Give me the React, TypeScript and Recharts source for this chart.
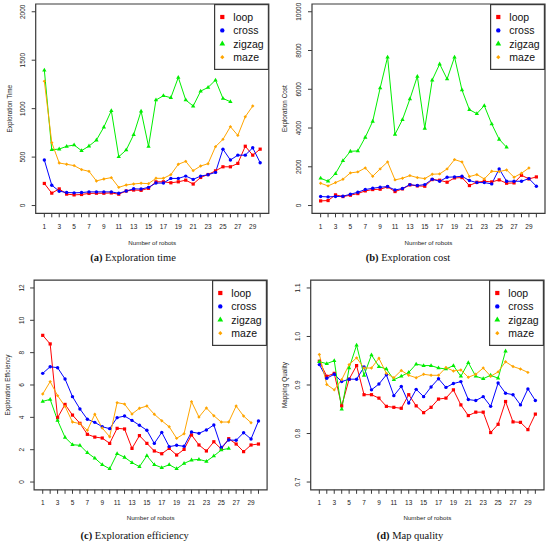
import { Legend, Line, LineChart, ReferenceArea, XAxis, YAxis } from "recharts";

// number of robots (x axis)
const robots = [1, 2, 3, 4, 5, 6, 7, 8, 9, 10, 11, 12, 13, 14, 15, 16, 17, 18, 19, 20, 21, 22, 23, 24, 25, 26, 27, 28, 29, 30];

// (a) exploration time
const timeLoop = [228, 128, 172, 118, 110, 114, 125, 127, 127, 130, 117, 150, 160, 157, 178, 245, 245, 235, 245, 262, 222, 290, 320, 358, 400, 400, 435, 612, 520, 582];
const timeCross = [470, 210, 148, 135, 131, 134, 141, 141, 141, 141, 127, 150, 173, 170, 188, 232, 232, 280, 280, 304, 270, 304, 318, 342, 582, 470, 520, 520, 596, 442];
const timeZigzag = [1398, 576, 583, 611, 625, 566, 614, 676, 810, 979, 504, 573, 731, 975, 611, 1089, 1133, 1113, 1322, 1089, 1027, 1181, 1219, 1295, 1106, 1071];
const timeMaze = [1284, 649, 439, 426, 412, 371, 353, 254, 274, 288, 188, 212, 223, 230, 226, 281, 281, 319, 426, 456, 360, 408, 432, 608, 683, 814, 724, 917, 1027];

// (b) exploration cost
const costLoop = [240, 258, 550, 464, 533, 618, 756, 825, 842, 962, 722, 859, 1065, 1014, 996, 1340, 1306, 1203, 1426, 1443, 1031, 1203, 1254, 1220, 1323, 1151, 1168, 1563, 1374, 1477];
const costCross = [464, 447, 464, 481, 584, 687, 825, 893, 945, 979, 807, 876, 1082, 1031, 1082, 1357, 1254, 1460, 1477, 1512, 1289, 1185, 1185, 1117, 1890, 1254, 1254, 1254, 1391, 996];
const costZigzag = [1409, 1254, 1649, 2319, 2800, 2818, 3522, 4347, 6065, 7662, 3677, 4433, 5498, 6666, 3986, 6477, 7302, 6529, 7662, 5962, 4948, 4742, 5154, 4209, 3419, 3007];
const costMaze = [1151, 1014, 1185, 1357, 1684, 1735, 1941, 1512, 1890, 2251, 1323, 1409, 1546, 1443, 1391, 1615, 1632, 1890, 2371, 2251, 1495, 1598, 1374, 1770, 1752, 1838, 1460, 1666, 1941];

// (c) exploration efficiency
const effLoop = [9.07, 8.54, 3.98, 4.8, 4.14, 3.63, 2.95, 2.78, 2.72, 2.39, 3.32, 3.28, 2.08, 2.87, 2.39, 1.92, 1.75, 2.08, 1.67, 2.02, 2.91, 2.29, 1.92, 2.49, 2.04, 2.68, 2.35, 1.88, 2.29, 2.35];
const effCross = [6.72, 7.13, 7.07, 6.37, 5.28, 4.52, 3.88, 3.69, 3.42, 3.3, 3.98, 4.08, 3.81, 3.51, 3.2, 2.39, 3.07, 2.19, 2.27, 2.21, 3.09, 3.01, 3.22, 3.53, 2.14, 2.6, 2.58, 3.05, 2.66, 3.77];
const effZigzag = [4.99, 5.11, 3.81, 2.76, 2.31, 2.27, 1.81, 1.48, 1.07, 0.82, 1.75, 1.53, 1.2, 0.95, 1.63, 1.07, 0.89, 1.07, 0.82, 1.15, 1.36, 1.4, 1.28, 1.61, 1.98, 2.08];
const effMaze = [5.44, 6.21, 5.34, 4.68, 3.71, 3.61, 3.2, 4.19, 3.34, 2.8, 4.91, 4.82, 4.21, 4.56, 4.7, 4.19, 3.79, 3.42, 2.7, 2.99, 4.97, 4.02, 4.58, 4.1, 3.71, 3.71, 4.7, 4.08, 3.67];

// (d) map quality
const qualLoop = [0.949, 0.918, 0.924, 0.857, 0.912, 0.94, 0.88, 0.88, 0.873, 0.856, 0.854, 0.852, 0.88, 0.857, 0.843, 0.854, 0.871, 0.873, 0.89, 0.859, 0.837, 0.844, 0.844, 0.802, 0.819, 0.866, 0.824, 0.823, 0.808, 0.84];
const qualCross = [0.942, 0.914, 0.922, 0.907, 0.912, 0.912, 0.937, 0.89, 0.902, 0.921, 0.878, 0.897, 0.863, 0.891, 0.876, 0.896, 0.913, 0.895, 0.903, 0.907, 0.87, 0.868, 0.876, 0.856, 0.904, 0.883, 0.88, 0.859, 0.892, 0.868];
const qualZigzag = [0.948, 0.944, 0.95, 0.85, 0.935, 0.982, 0.92, 0.962, 0.938, 0.933, 0.911, 0.918, 0.926, 0.943, 0.94, 0.94, 0.935, 0.933, 0.94, 0.918, 0.946, 0.918, 0.913, 0.92, 0.914, 0.97];
const qualMaze = [0.963, 0.901, 0.89, 0.911, 0.942, 0.956, 0.935, 0.935, 0.955, 0.924, 0.915, 0.93, 0.92, 0.915, 0.922, 0.92, 0.92, 0.936, 0.929, 0.931, 0.916, 0.922, 0.935, 0.918, 0.927, 0.948, 0.938, 0.933, 0.926];

const series = [
  { key: "loop", color: "#ff0000", shape: "square" },
  { key: "cross", color: "#0000ff", shape: "circle" },
  { key: "zigzag", color: "#00ee00", shape: "triangle" },
  { key: "maze", color: "#ffa500", shape: "diamond" },
];

const FONT = "Liberation Sans, Arial, sans-serif";
const FRAME = "#3a3a3a";

function rows(loop: number[], cross: number[], zigzag: number[], maze: number[]) {
  return robots.map((n, i) => ({
    n,
    loop: loop[i] ?? null,
    cross: cross[i] ?? null,
    zigzag: zigzag[i] ?? null,
    maze: maze[i] ?? null,
  }));
}

function marker(shape: string, color: string, cx: number, cy: number, s: number) {
  if (shape === "square") return <rect x={cx - s} y={cy - s} width={2 * s} height={2 * s} fill={color} />;
  if (shape === "circle") return <circle cx={cx} cy={cy} r={s} fill={color} />;
  if (shape === "triangle")
    return (
      <polygon
        points={`${cx},${cy - 1.35 * s} ${cx - 1.2 * s},${cy + 0.75 * s} ${cx + 1.2 * s},${cy + 0.75 * s}`}
        fill={color}
      />
    );
  return <polygon points={`${cx},${cy - s} ${cx + s},${cy} ${cx},${cy + s} ${cx - s},${cy}`} fill={color} />;
}

const dotSize: Record<string, number> = { square: 1.6, circle: 1.7, triangle: 1.8, diamond: 1.7 };
const legendSize: Record<string, number> = { square: 2.1, circle: 2.2, triangle: 2.4, diamond: 2.1 };

function makeDot(shape: string, color: string) {
  return (props: any) => {
    const { cx, cy, index } = props;
    if (cx == null || cy == null || props.value == null) return <g key={`e${index}`} />;
    return <g key={`d${index}`}>{marker(shape, color, cx, cy, dotSize[shape])}</g>;
  };
}

const XTick = (props: any) => {
  const { x, y, payload } = props;
  if (payload.value % 2 !== 1) return <g />;
  return (
    <text x={x} y={y} dy={11.7} textAnchor="middle" fontSize={6.5} fill="#222" fontFamily={FONT}>
      {payload.value}
    </text>
  );
};

function makeYTick(fmt: (v: number) => string) {
  return (props: any) => {
    const { x, y, payload } = props;
    const bx = x - 6.5;
    return (
      <text
        x={bx}
        y={y}
        transform={`rotate(-90 ${bx} ${y})`}
        textAnchor="middle"
        fontSize={6.5}
        fill="#222"
        fontFamily={FONT}
      >
        {fmt(payload.value)}
      </text>
    );
  };
}

const YTitle = (props: any) => {
  const { viewBox, text, bx } = props;
  const x = viewBox.x + bx;
  const y = viewBox.y + viewBox.height / 2;
  return (
    <text x={x} y={y} transform={`rotate(-90 ${x} ${y})`} textAnchor="middle" fontSize={6.4} fill="#222" fontFamily={FONT}>
      {text}
    </text>
  );
};

const XTitle = (props: any) => {
  const { viewBox, dy } = props;
  return (
    <text x={viewBox.x + viewBox.width / 2} y={viewBox.y + dy} textAnchor="middle" fontSize={6.2} fill="#222" fontFamily={FONT}>
      Number of robots
    </text>
  );
};

// legend drawn inside a bordered box, like R's legend()
const LegendBox = () => (
  <svg width={55} height={66} style={{ display: "block", overflow: "visible" }}>
    <rect x={0.6} y={0.6} width={53.8} height={64.8} fill="#fff" stroke={FRAME} strokeWidth={1.2} />
    {series.map((s, i) => (
      <g key={s.key}>
        {marker(s.shape, s.color, 8.3, 13 + 13.4 * i, legendSize[s.shape])}
        <text x={19.3} y={13 + 13.4 * i} dominantBaseline="central" fontSize={10.5} fill="#111" fontFamily={FONT}>
          {s.key}
        </text>
      </g>
    ))}
  </svg>
);

const panels = [
  {
    id: "a",
    caption: "Exploration time",
    yTitle: "Exploration Time",
    data: rows(timeLoop, timeCross, timeZigzag, timeMaze),
    domain: [-80, 2080],
    ticks: [0, 500, 1000, 1500, 2000],
    fmt: (v: number) => String(v),
    left: 0, top: 0,
    box: { l: 35.7, t: 4, r: 268.8, b: 213.3 },
    yTitleX: 12.3, xTitleDy: 32.2,
    capX: 133, capTop: 252,
  },
  {
    id: "b",
    caption: "Exploration cost",
    yTitle: "Exploration Cost",
    data: rows(costLoop, costCross, costZigzag, costMaze),
    domain: [-400, 10400],
    ticks: [0, 2000, 4000, 6000, 8000, 10000],
    fmt: (v: number) => String(v),
    left: 275, top: 0,
    box: { l: 312, t: 4, r: 545, b: 213.3 },
    yTitleX: 12.3, xTitleDy: 32.2,
    capX: 408, capTop: 252,
  },
  {
    id: "c",
    caption: "Exploration efficiency",
    yTitle: "Exploration Efficiency",
    data: rows(effLoop, effCross, effZigzag, effMaze),
    domain: [-0.48, 12.48],
    ticks: [0, 2, 4, 6, 8, 10, 12],
    fmt: (v: number) => String(v),
    left: 0, top: 270,
    box: { l: 34.1, t: 280.2, r: 267.1, b: 489.8 },
    yTitleX: 9.6, xTitleDy: 30.7,
    capX: 134.7, capTop: 529.5,
  },
  {
    id: "d",
    caption: "Map quality",
    yTitle: "Mapping Quality",
    data: rows(qualLoop, qualCross, qualZigzag, qualMaze),
    domain: [0.684, 1.116],
    ticks: [0.7, 0.8, 0.9, 1.0, 1.1],
    fmt: (v: number) => v.toFixed(1),
    left: 275, top: 270,
    box: { l: 310.7, t: 280.2, r: 544, b: 489.8 },
    yTitleX: 12.3, xTitleDy: 30.7,
    capX: 410, capTop: 529.5,
  },
];

const X_DOMAIN = [-0.16, 31.16];
const X_AXIS_H = 40;

function Panel({ p }: { p: (typeof panels)[number] }) {
  const { box } = p;
  const height = box.b - p.top + X_AXIS_H;
  const YTick = makeYTick(p.fmt);
  return (
    <div style={{ position: "absolute", left: p.left, top: p.top }}>
      <LineChart
        width={275}
        height={height}
        data={p.data}
        margin={{ top: box.t - p.top, right: p.left + 275 - box.r, left: 0, bottom: 0 }}
        style={{ fontFamily: FONT }}
      >
        <XAxis
          dataKey="n"
          type="number"
          domain={X_DOMAIN}
          ticks={robots}
          interval={0}
          allowDataOverflow
          axisLine={false}
          tickLine={{ stroke: FRAME }}
          tickSize={4}
          tickMargin={0}
          height={X_AXIS_H}
          tick={<XTick />}
          label={<XTitle dy={p.xTitleDy} />}
        />
        <YAxis
          type="number"
          domain={p.domain}
          ticks={p.ticks}
          interval={0}
          allowDataOverflow
          axisLine={false}
          tickLine={{ stroke: FRAME }}
          tickSize={4}
          tickMargin={0}
          width={box.l - p.left}
          tick={<YTick />}
          label={<YTitle text={p.yTitle} bx={p.yTitleX} />}
        />
        {/* plot frame */}
        <ReferenceArea
          x1={X_DOMAIN[0]}
          x2={X_DOMAIN[1]}
          y1={p.domain[0]}
          y2={p.domain[1]}
          ifOverflow="visible"
          fill="none"
          stroke={FRAME}
          strokeWidth={1.2}
        />
        {series.map((s) => (
          <Line
            key={s.key}
            dataKey={s.key}
            name={s.key}
            stroke={s.color}
            strokeWidth={1}
            dot={makeDot(s.shape, s.color)}
            activeDot={false}
            isAnimationActive={false}
          />
        ))}
        <Legend
          layout="vertical"
          align="center"
          verticalAlign="middle"
          content={<LegendBox />}
          wrapperStyle={{ left: box.r - p.left - 55, top: box.t - p.top, width: 55, height: 66 }}
        />
      </LineChart>
      <div
        style={{
          position: "absolute",
          left: p.capX - p.left - 100,
          top: p.capTop - p.top,
          width: 200,
          textAlign: "center",
          fontFamily: "Liberation Serif, serif",
          fontSize: 10.5,
          lineHeight: "12px",
          color: "#111",
          whiteSpace: "nowrap",
        }}
      >
        <b>({p.id})</b> {p.caption}
      </div>
    </div>
  );
}

export default function App() {
  return (
    <div style={{ position: "absolute", left: 0, top: 0, width: 550, height: 545, background: "#fff" }}>
      {panels.map((p) => (
        <Panel key={p.id} p={p} />
      ))}
    </div>
  );
}
